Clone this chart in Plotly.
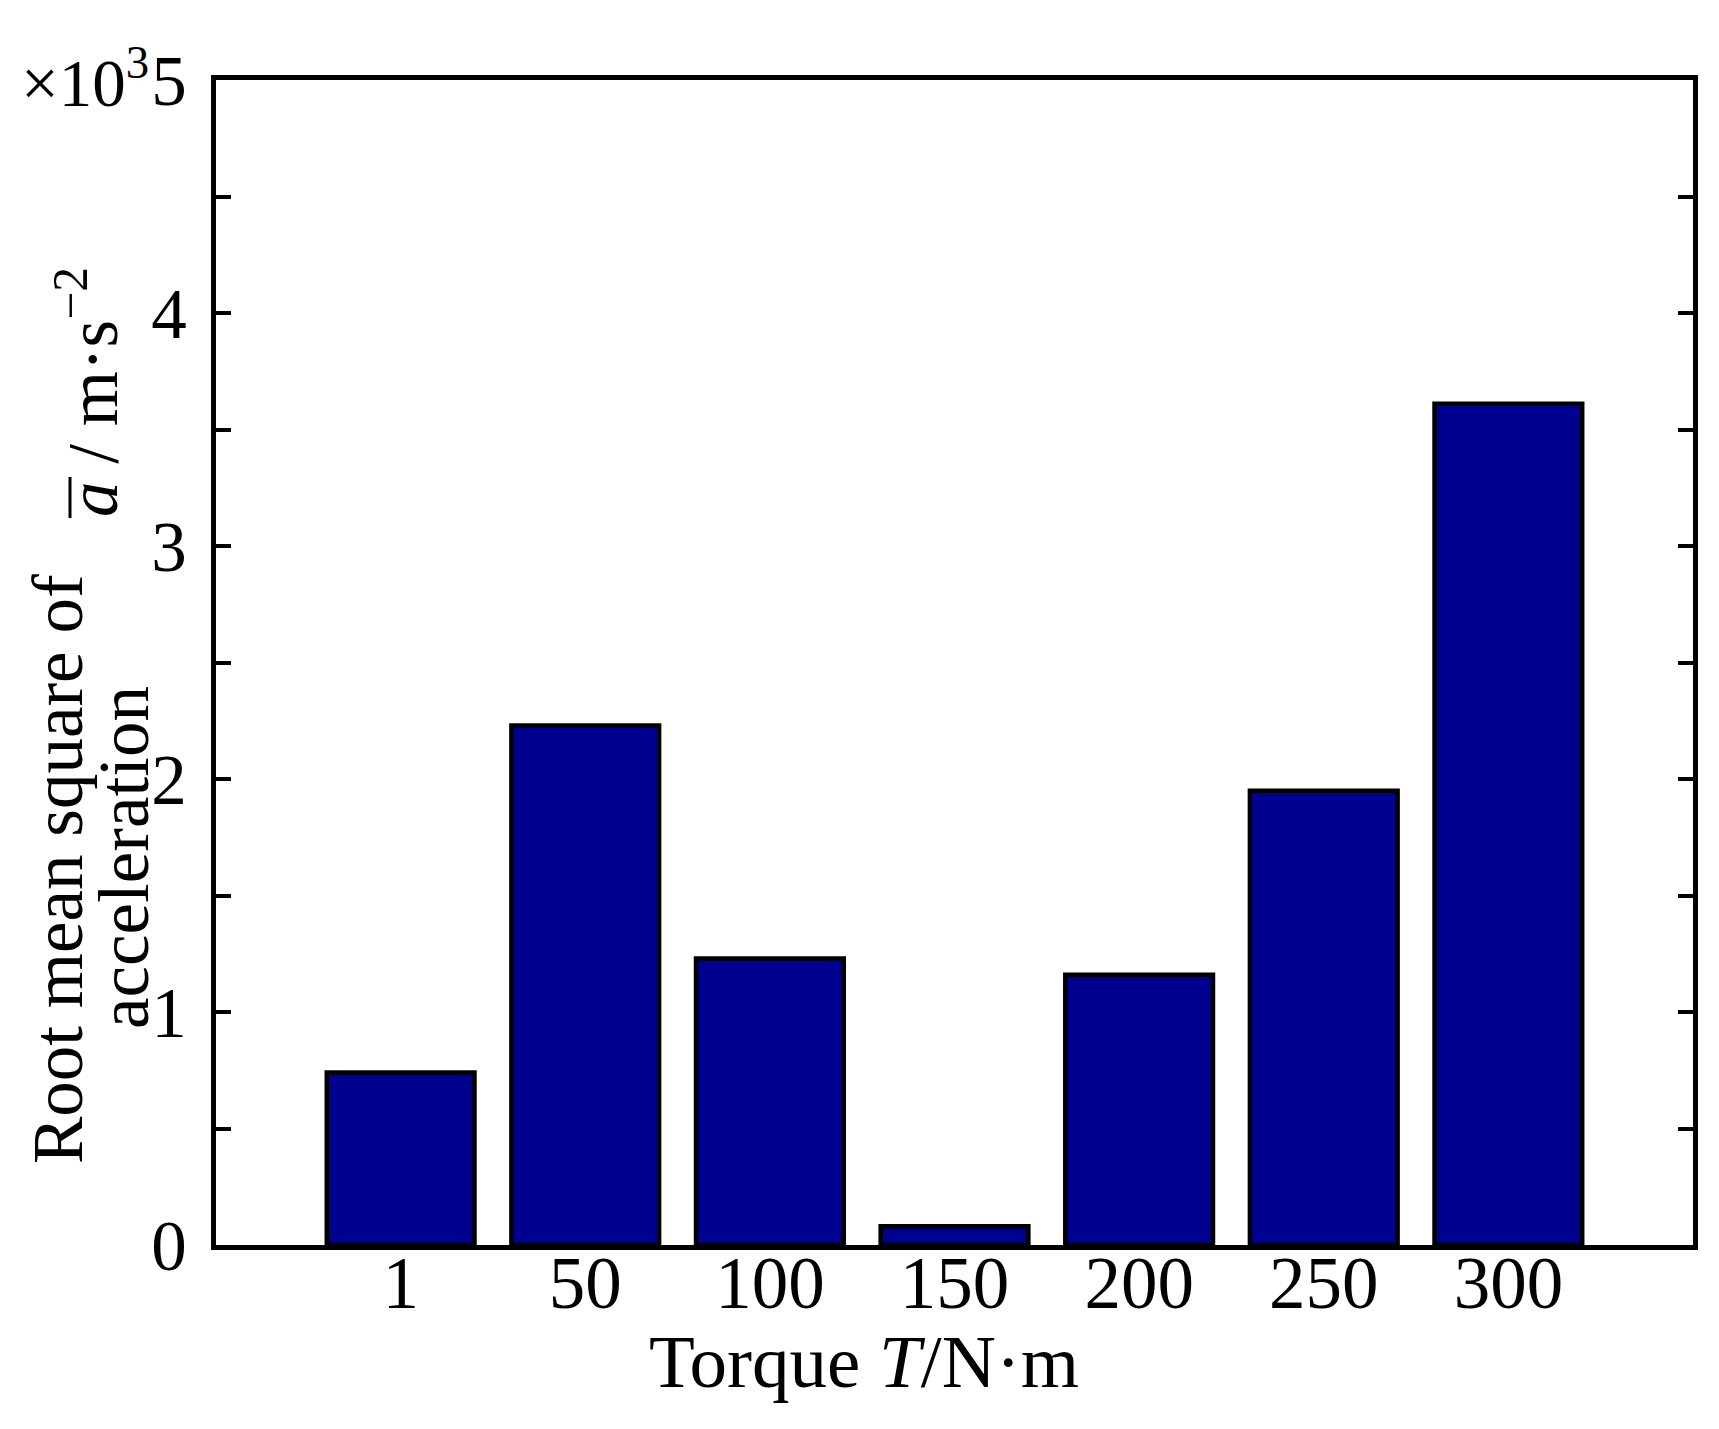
import plotly.graph_objects as go

categories = ["1", "50", "100", "150", "200", "250", "300"]
rms_accel = [0.74, 2.23, 1.23, 0.08, 1.16, 1.95, 3.61]  # x10^3 m/s^2
y_ticks = [0, 0.5, 1, 1.5, 2, 2.5, 3, 3.5, 4, 4.5, 5]
y_ticktext = ["0", "", "1", "", "2", "", "3", "", "4", "", "5"]

W, H = 1719, 1429
OFF = 8  # default page body margin
L, R, T, B = 216, 1693, 80, 1245  # desired plot area in page pixels
FONT = "Liberation Serif, Times New Roman, serif"
FS = 71


def px(xp):
    return (xp - L) / (R - L)


def py(yp):
    return (B - yp) / (B - T)


fig = go.Figure()
fig.add_trace(go.Bar(
    x=categories, y=rms_accel,
    marker=dict(color="#00008F", line=dict(color="black", width=4.5)),
    width=0.8,
))

fig.update_layout(
    width=W, height=H,
    margin=dict(l=L - OFF, r=W - R + OFF, t=T - OFF, b=H - B + OFF),
    paper_bgcolor="white", plot_bgcolor="white",
    showlegend=False,
    font=dict(family=FONT, size=FS, color="black"),
    xaxis=dict(
        type="category", range=[-1, 7],
        showline=True, linecolor="black", linewidth=5, mirror=True,
        ticks="", showgrid=False, zeroline=False,
        tickfont=dict(family=FONT, size=FS + 2, color="black"),
        ticklabelstandoff=-30,
    ),
    yaxis=dict(
        range=[0, 5], tickvals=y_ticks, ticktext=y_ticktext,
        showline=True, linecolor="black", linewidth=5, mirror="ticks",
        ticks="inside", ticklen=15, tickwidth=4, tickcolor="black",
        showgrid=False, zeroline=False,
        tickfont=dict(family=FONT, size=FS, color="black"),
        ticklabelstandoff=10,
    ),
)

ann = dict(xref="paper", yref="paper", showarrow=False,
           font=dict(family=FONT, size=FS, color="black"))
ann_big = dict(xref="paper", yref="paper", showarrow=False,
               font=dict(family=FONT, size=75, color="black"))

# x-axis title
fig.add_annotation(x=px(864), y=py(1362), text="Torque <i>T</i>/N·m",
                   xanchor="center", yanchor="middle", **ann_big)
# y-axis title pieces
fig.add_annotation(x=px(58), y=py(869), text="Root mean square of",
                   textangle=-90, xanchor="center", yanchor="middle", **ann)
fig.add_annotation(x=px(124), y=py(858), text="acceleration",
                   textangle=-90, xanchor="center", yanchor="middle", **ann)
fig.add_annotation(x=px(88), y=py(392),
                   text="<i>a</i> / m·s<sup>−2</sup>",
                   textangle=-90, xanchor="center", yanchor="middle", **ann)
# overbar on a
fig.add_shape(type="line", xref="paper", yref="paper",
              x0=px(70), x1=px(70), y0=py(477), y1=py(518),
              line=dict(color="black", width=3))
# exponent
fig.add_annotation(x=px(151), y=py(78), text="×10<sup>3</sup>",
                   xanchor="right", yanchor="middle",
                   xref="paper", yref="paper", showarrow=False,
                   font=dict(family=FONT, size=67, color="black"))

fig.write_html("out.html")
